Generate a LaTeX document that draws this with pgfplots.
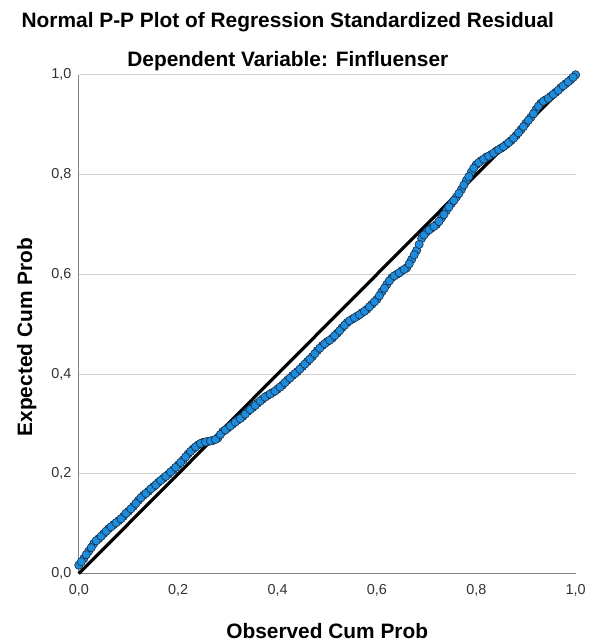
\documentclass[border=0pt]{standalone}
\usepackage{pgfplots}
\pgfplotsset{compat=1.18}
\usepackage{fontspec}
\setmainfont{Liberation Sans}
\definecolor{ptfill}{RGB}{30,140,220}
\definecolor{ptdraw}{RGB}{22,45,70}
\definecolor{gridc}{RGB}{210,210,210}
\definecolor{axc}{RGB}{130,130,130}
\definecolor{tickc}{RGB}{50,50,50}
\begin{document}
\begin{tikzpicture}
\begin{axis}[
  scale only axis, width=498bp, height=500bp,
  xmin=0, xmax=1, ymin=0, ymax=1,
  clip=false,
  axis x line*=bottom, axis y line*=left,
  axis line style={axc, line width=1.2pt, -},
  major tick length=0pt,
  xtick={0,0.2,0.4,0.6,0.8,1.0},
  ytick={0,0.2,0.4,0.6,0.8,1.0},
  ymajorgrids,
  grid style={gridc, line width=1pt},
  /pgf/number format/assume math mode=true,
  /pgf/number format/.cd, use comma, fixed, fixed zerofill, precision=1,
  /pgfplots/.cd,
  tick label style={font=\fontsize{14.5}{17}\selectfont, text=tickc},
  xticklabel style={yshift=-7bp},
  yticklabel style={xshift=-4bp},
]
\addplot[only marks, mark=*, mark size=4.2pt,
  mark options={fill=ptfill, draw=ptdraw, line width=0.6pt}] coordinates {
(0.00,0.017)(0.01,0.030)(0.02,0.045)(0.03,0.060)(0.04,0.070)(0.05,0.080)
(0.06,0.090)(0.07,0.098)(0.08,0.106)(0.09,0.115)(0.10,0.125)(0.11,0.135)
(0.12,0.147)(0.13,0.157)(0.14,0.165)(0.15,0.174)(0.16,0.183)(0.17,0.191)
(0.18,0.199)(0.19,0.208)(0.20,0.218)(0.21,0.228)(0.22,0.240)(0.23,0.250)
(0.24,0.258)(0.25,0.263)(0.26,0.265)(0.27,0.267)(0.28,0.272)(0.29,0.285)
(0.30,0.292)(0.31,0.300)(0.32,0.308)(0.33,0.315)(0.34,0.325)(0.35,0.333)
(0.36,0.342)(0.37,0.350)(0.38,0.357)(0.39,0.363)(0.40,0.370)(0.41,0.378)
(0.42,0.388)(0.43,0.397)(0.44,0.405)(0.45,0.415)(0.46,0.425)(0.47,0.435)
(0.48,0.447)(0.49,0.457)(0.50,0.465)(0.51,0.472)(0.52,0.482)(0.53,0.493)
(0.54,0.503)(0.55,0.510)(0.56,0.516)(0.57,0.523)(0.58,0.530)(0.59,0.540)
(0.60,0.550)(0.61,0.565)(0.62,0.580)(0.63,0.593)(0.64,0.600)(0.65,0.607)
(0.66,0.613)(0.67,0.630)(0.68,0.648)(0.69,0.672)(0.70,0.685)(0.71,0.693)
(0.72,0.700)(0.73,0.713)(0.74,0.728)(0.75,0.742)(0.76,0.755)(0.77,0.770)
(0.78,0.788)(0.79,0.805)(0.80,0.820)(0.81,0.828)(0.82,0.835)(0.83,0.840)
(0.84,0.847)(0.85,0.853)(0.86,0.860)(0.87,0.868)(0.88,0.878)(0.89,0.890)
(0.90,0.903)(0.91,0.915)(0.92,0.930)(0.93,0.943)(0.94,0.950)(0.95,0.957)
(0.96,0.965)(0.97,0.974)(0.98,0.982)(0.99,0.990)(1.00,1.000)
};
\addplot[only marks, mark=*, mark size=4.2pt,
  mark options={fill=ptfill, draw=ptdraw, line width=0.6pt}] coordinates {
(0.005,0.024)(0.015,0.038)(0.025,0.052)(0.035,0.066)(0.045,0.075)(0.055,0.085)
(0.065,0.094)(0.075,0.102)(0.085,0.110)(0.095,0.121)(0.105,0.130)(0.115,0.141)
(0.125,0.152)(0.135,0.161)(0.145,0.170)(0.155,0.178)(0.165,0.187)(0.175,0.195)
(0.185,0.204)(0.195,0.213)(0.205,0.223)(0.215,0.234)(0.225,0.245)(0.235,0.254)
(0.245,0.261)(0.255,0.264)(0.265,0.266)(0.275,0.269)(0.285,0.279)(0.295,0.288)
(0.305,0.296)(0.315,0.304)(0.325,0.311)(0.335,0.320)(0.345,0.329)(0.355,0.337)
(0.365,0.346)(0.375,0.354)(0.385,0.360)(0.395,0.366)(0.405,0.374)(0.415,0.383)
(0.425,0.392)(0.435,0.401)(0.445,0.410)(0.455,0.420)(0.465,0.430)(0.475,0.441)
(0.485,0.452)(0.495,0.461)(0.505,0.468)(0.515,0.477)(0.525,0.487)(0.535,0.498)
(0.545,0.507)(0.555,0.513)(0.565,0.519)(0.575,0.526)(0.585,0.535)(0.595,0.545)
(0.605,0.557)(0.615,0.572)(0.625,0.587)(0.635,0.597)(0.645,0.603)(0.655,0.610)
(0.665,0.621)(0.675,0.639)(0.685,0.660)(0.695,0.679)(0.705,0.689)(0.715,0.696)
(0.725,0.706)(0.735,0.720)(0.745,0.735)(0.755,0.748)(0.765,0.762)(0.775,0.779)
(0.785,0.796)(0.795,0.813)(0.805,0.824)(0.815,0.831)(0.825,0.837)(0.835,0.843)
(0.845,0.850)(0.855,0.856)(0.865,0.864)(0.875,0.873)(0.885,0.884)(0.895,0.896)
(0.905,0.909)(0.915,0.922)(0.925,0.937)(0.935,0.947)(0.945,0.953)(0.955,0.961)
(0.965,0.969)(0.975,0.978)(0.985,0.986)(0.995,0.995)
};
\addplot[black, line width=3.2pt] coordinates {(0,0)(1,1)};
\node[anchor=base, font=\bfseries\fontsize{21}{25}\selectfont] at (rel axis cs:0.4207,1.094) {Normal P-P Plot of Regression Standardized Residual};
\node[anchor=base, font=\bfseries\fontsize{21}{25}\selectfont] at (rel axis cs:0.4207,1.016) {Dependent Variable: Finfluenser};
\node[anchor=base, font=\bfseries\fontsize{21}{25}\selectfont] at (rel axis cs:0.5,-0.13) {Observed Cum Prob};
\node[anchor=base, font=\bfseries\fontsize{21}{25}\selectfont, rotate=90] at (rel axis cs:-0.094,0.474) {Expected Cum Prob};
\coordinate (SW) at (rel axis cs:0,0);
\coordinate (NE) at (rel axis cs:1,1);
\end{axis}
\path[use as bounding box] ([shift={(-79bp,-67bp)}]SW) rectangle ([shift={(12bp,75bp)}]NE);
\end{tikzpicture}
\end{document}
